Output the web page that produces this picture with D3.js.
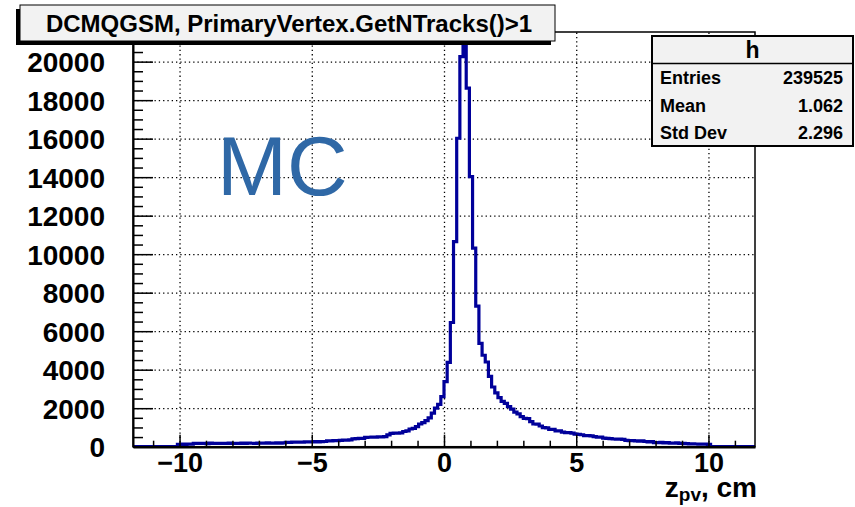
<!DOCTYPE html>
<html>
<head>
<meta charset="utf-8">
<script src="https://cdn.jsdelivr.net/npm/d3@7"></script>
<style>
  body { margin: 0; background: #fff; }
  svg text { font-family: "Liberation Sans", Arial, Helvetica, sans-serif; font-weight: bold; fill: #000; }
</style>
</head>
<body>
<svg id="chart" width="855" height="507"></svg>
<script>
// histogram of z_pv, bins of 0.12 cm, nonzero part starts at -10.08
var binW = 0.12;
var zStart = -10.08;
var leftCounts = [
  120, 135, 115, 140, 130,
  170, 165, 180, 175, 160, 185, 170, 175, 180, 165, 175, 185, 170, 180, 175,
  190, 170, 185, 180, 175, 190, 180, 185, 195, 180, 190, 200, 185, 195,
  230, 220, 240, 235, 245,
  240, 250, 245, 255, 260, 250, 265, 270,
  310, 300, 320, 315, 330, 340, 335, 350,
  410, 420, 435, 430,
  480, 490, 500, 495, 510, 505, 520,
  610,
  690, 700, 710, 720,
  790, 820,
  920, 950,
  1040, 1180, 1250, 1350, 1500, 1740, 2000, 2200, 2600
];
var rightCounts = [
  3380, 4380, 6450, 10650, 16020, 20260, 21300, 18620, 14030, 10310,
  7300, 5370, 4750, 4400, 3650, 3100, 2800, 2550, 2350, 2250,
  2080, 1950, 1800, 1700, 1560, 1475, 1460, 1300, 1180, 1170,
  1075, 990, 980, 900, 900, 815, 820, 760, 730, 730,
  700, 650, 640, 620, 575, 580, 560, 520, 490, 495,
  450, 430, 420, 400, 395, 390, 380, 330, 310, 320,
  300, 290, 300, 270, 250, 260, 215, 210, 220, 200,
  210, 190, 180, 200, 170, 175, 160, 150, 150, 140,
  135, 140, 130, 120
];
var xRange = [-11.76, 11.76];
var yRange = [0, 21540];
var xMajor = [-10, -5, 0, 5, 10];
var yMajor = [0, 2000, 4000, 6000, 8000, 10000, 12000, 14000, 16000, 18000, 20000];
var titleText = "DCMQGSM, PrimaryVertex.GetNTracks()>1";
var statsName = "h";
var statsRows = [["Entries", "239525"], ["Mean", "1.062"], ["Std Dev", "2.296"]];

var svg = d3.select("#chart");
var fx0 = 133, fx1 = 755, fy0 = 32, fy1 = 446.7;

var x = d3.scaleLinear().domain(xRange).range([fx0, fx1]);
var y = d3.scaleLinear().domain(yRange).range([fy1, fy0]);

// grid (dotted)
svg.append("g")
  .attr("transform", "translate(0," + fy1 + ")")
  .call(d3.axisBottom(x).tickValues(xMajor).tickSize(-(fy1 - fy0)).tickFormat(""))
  .call(g => g.select(".domain").remove())
  .selectAll("line").attr("stroke", "#000").attr("stroke-width", 1.3).attr("stroke-dasharray", "1.3,3");
svg.append("g")
  .attr("transform", "translate(" + fx0 + ",0)")
  .call(d3.axisLeft(y).tickValues(yMajor.slice(1)).tickSize(-(fx1 - fx0)).tickFormat(""))
  .call(g => g.select(".domain").remove())
  .selectAll("line").attr("stroke", "#000").attr("stroke-width", 1.3).attr("stroke-dasharray", "1.3,3");

// histogram
var counts = leftCounts.concat(rightCounts);
var pts = [[xRange[0], 0], [zStart, 0]];
counts.forEach(function(v, i) { pts.push([zStart + i * binW, v]); });
var zEnd = zStart + counts.length * binW;
pts.push([zEnd, 0]);
pts.push([xRange[1], 0]);

svg.append("clipPath").attr("id", "frameclip")
  .append("rect").attr("x", fx0).attr("y", fy0).attr("width", fx1 - fx0).attr("height", fy1 - fy0);

svg.append("path")
  .datum(pts)
  .attr("clip-path", "url(#frameclip)")
  .attr("fill", "none")
  .attr("stroke", "#00009a")
  .attr("stroke-width", 3.2)
  .attr("d", d3.line().x(d => x(d[0])).y(d => y(d[1])).curve(d3.curveStepAfter));

// frame
svg.append("rect")
  .attr("x", fx0).attr("y", fy0).attr("width", fx1 - fx0).attr("height", fy1 - fy0)
  .attr("fill", "none").attr("stroke", "#000").attr("stroke-width", 1.5);

// y axis
var yAx = svg.append("g").attr("transform", "translate(" + fx0 + ",0)")
  .call(d3.axisLeft(y).tickValues(yMajor).tickSizeInner(-20).tickSizeOuter(0).tickPadding(28).tickFormat(d3.format("d")));
yAx.select(".domain").attr("stroke", "#000").attr("stroke-width", 2);
yAx.selectAll("line").attr("stroke", "#000").attr("stroke-width", 1.5);
yAx.selectAll("text").style("font-size", "28px").attr("dy", "0.36em");
svg.append("g").attr("transform", "translate(" + fx0 + ",0)")
  .call(d3.axisLeft(y).tickValues(d3.range(500, 21540, 500).filter(v => v % 2000 != 0)).tickSize(-10).tickFormat(""))
  .call(g => g.select(".domain").remove())
  .selectAll("line").attr("stroke", "#000").attr("stroke-width", 1.5);

// x axis
var xAx = svg.append("g").attr("transform", "translate(0," + fy1 + ")")
  .call(d3.axisBottom(x).tickValues(xMajor).tickSizeInner(-12).tickSizeOuter(0).tickPadding(6)
    .tickFormat(d => d < 0 ? "\u2212" + Math.abs(d) : d));
xAx.select(".domain").attr("stroke", "#000").attr("stroke-width", 2.5);
xAx.selectAll("line").attr("stroke", "#000").attr("stroke-width", 1.5);
xAx.selectAll("text").style("font-size", "27px");
svg.append("g").attr("transform", "translate(0," + fy1 + ")")
  .call(d3.axisBottom(x).tickValues(d3.range(-11, 12, 1).filter(v => v % 5 != 0)).tickSize(-6).tickFormat(""))
  .call(g => g.select(".domain").remove())
  .selectAll("line").attr("stroke", "#000").attr("stroke-width", 1.5);

// x title
var xt = svg.append("text").attr("x", 757).attr("y", 497).attr("text-anchor", "end").style("font-size", "28px");
xt.append("tspan").text("z");
xt.append("tspan").attr("dy", 4).style("font-size", "19px").text("pv");
xt.append("tspan").attr("dy", -4).text(", cm");

// MC label
svg.append("text").attr("x", 217).attr("y", 195)
  .style("font-weight", "normal").style("fill", "#2f68a6").style("font-size", "84px")
  .text("MC");

// title box
svg.append("rect").attr("x", 16).attr("y", 9).attr("width", 535).attr("height", 36).attr("fill", "#000");
svg.append("rect").attr("x", 20).attr("y", 5).attr("width", 535).attr("height", 36)
  .attr("fill", "#f2f2f2").attr("stroke", "#000").attr("stroke-width", 1);
svg.append("text").attr("x", 289).attr("y", 32).attr("text-anchor", "middle").style("font-size", "24px").text(titleText);

// stats box
var sx = 652, sy = 36, sw = 201, sh = 110;
svg.append("rect").attr("x", sx).attr("y", sy).attr("width", sw).attr("height", sh)
  .attr("fill", "#f2f2f2").attr("stroke", "#000").attr("stroke-width", 2);
svg.append("line").attr("x1", sx).attr("x2", sx + sw).attr("y1", 63.5).attr("y2", 63.5).attr("stroke", "#000").attr("stroke-width", 1.5);
svg.append("text").attr("x", sx + sw / 2).attr("y", 58).attr("text-anchor", "middle").style("font-size", "23px").text(statsName);
statsRows.forEach(function(r, i) {
  var ty = 84 + i * 27.5;
  svg.append("text").attr("x", 660).attr("y", ty).style("font-size", "18px").text(r[0]);
  svg.append("text").attr("x", 843).attr("y", ty).attr("text-anchor", "end").style("font-size", "18px").text(r[1]);
});
</script>
</body>
</html>
